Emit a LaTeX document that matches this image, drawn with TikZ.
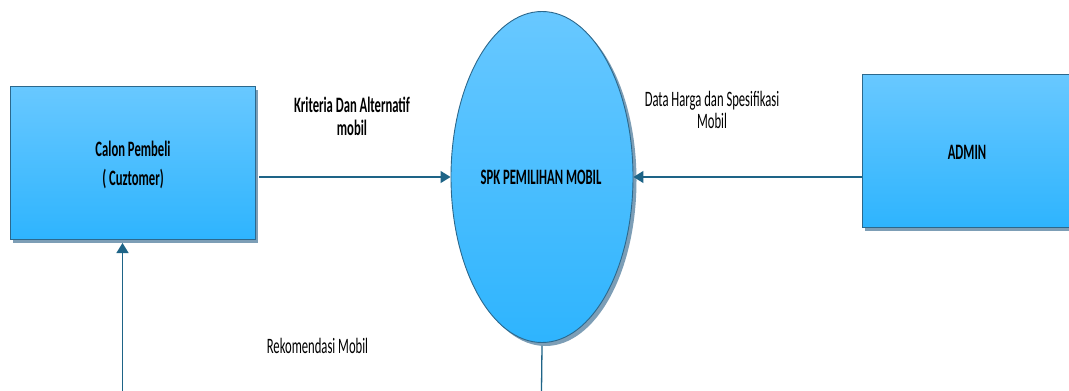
\documentclass[tikz,border=0pt]{standalone}
\usepackage{fontspec}
\setmainfont{Carlito}
\usetikzlibrary{shapes.geometric,shadows,arrows.meta}
\definecolor{topblue}{RGB}{104,200,255}
\definecolor{botblue}{RGB}{46,180,254}
\definecolor{edgeblue}{RGB}{44,104,140}
\definecolor{linkblue}{RGB}{30,100,135}
\definecolor{shadowgray}{RGB}{125,158,182}
\newcommand{\cond}[1]{\scalebox{0.575}[1]{\begin{tabular}[t]{@{}c@{}}#1\end{tabular}}}
\begin{document}
\begin{tikzpicture}[x=1pt,y=-1pt,
  entity/.style={rectangle, draw=edgeblue, line width=0.9pt, top color=topblue, bottom color=botblue,
    inner sep=0pt, drop shadow={shadow xshift=3pt, shadow yshift=-3.5pt, opacity=1, fill=shadowgray}},
  process/.style={ellipse, draw=edgeblue, line width=0.9pt, top color=topblue, bottom color=botblue,
    inner sep=0pt, minimum width=182pt, minimum height=331pt,
    drop shadow={shadow xshift=3.5pt, shadow yshift=-3.5pt, opacity=1, fill=shadowgray}},
  lbl/.style={inner sep=0pt, anchor=base, text=black},
  lblb/.style={lbl, font=\bfseries\fontsize{22}{#1}\selectfont},
  lblr/.style={lbl, font=\fontsize{22}{#1}\selectfont},
  flow/.style={draw=linkblue, line width=1.3pt, -{Triangle[length=10pt,width=12pt]}},
  plain/.style={draw=linkblue, line width=1.3pt}
]
\useasboundingbox (0,0) rectangle (1069,391);

\node[entity, minimum width=245pt, minimum height=153pt] (cust) at (132.5,163.3) {};
\node[entity, minimum width=214pt, minimum height=153pt] (admin) at (969,151.3) {};
\node[process] (spk) at (542,177) {};

\node[lblb=29] (tcust) at (133,156) {\cond{Calon Pembeli\\( Cuztomer)}};
\node[lblb=22] (tadmin) at (967,159) {\cond{ADMIN}};
\node[lblb=22] (tspk) at (541,184) {\cond{SPK PEMILIHAN MOBIL}};

\node[lblb=22.7] (tkrit) at (352,112.3) {\cond{Kriteria Dan Alternatif\\mobil}};
\node[lblr=21.5] (tdata) at (712,106.7) {\cond{Data Harga dan Spesifikasi\\Mobil}};
\node[lblr=22] (trek) at (317.5,353) {\cond{Rekomendasi Mobil}};

\coordinate (cstart) at (259,177);
\coordinate (bot1) at (541.5,391);
\coordinate (bot2) at (122.5,391);
\coordinate (custbot) at (122.5,243);

\draw[flow] (cstart) -- (spk.west);
\draw[flow] (admin.west |- spk.east) -- (spk.east);
\draw[plain] (spk.south) ++(0,3) -- (bot1);
\draw[flow] (bot2) -- (custbot);
\end{tikzpicture}
\end{document}
